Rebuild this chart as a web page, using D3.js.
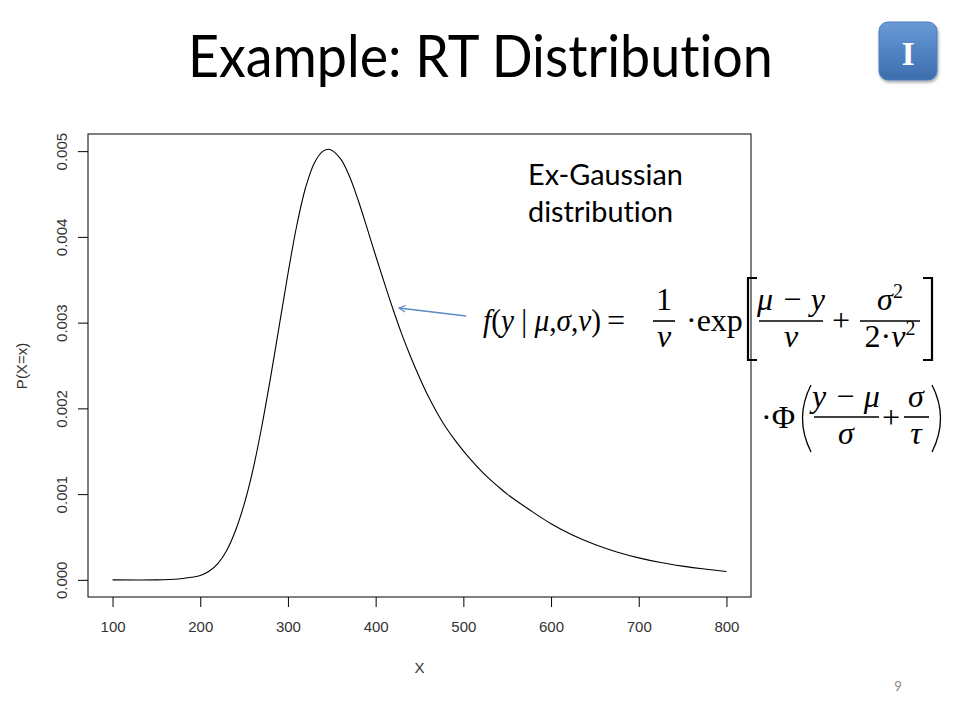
<!DOCTYPE html>
<html>
<head>
<meta charset="utf-8">
<script src="https://cdn.jsdelivr.net/npm/d3@7"></script>
<style>
  html, body { margin: 0; padding: 0; background: #fff; }
  svg { display: block; }
  text { font-variant-ligatures: none; }
</style>
</head>
<body>
<svg id="chart" width="960" height="720"></svg>
<script>
// ---- Data ----
const titleText = "Example: RT Distribution";
const noteLines = ["Ex-Gaussian", "distribution"];
const xLabel = "X";
const yLabel = "P(X=x)";
const xTicks = [100, 200, 300, 400, 500, 600, 700, 800];
const yTicks = [0, 0.001, 0.002, 0.003, 0.004, 0.005];
const xValues = [100, 150, 175, 190, 200, 210, 220, 230, 240, 250, 260, 270, 280, 290, 300,
  310, 320, 330, 340, 348, 360, 370, 380, 390, 400, 410, 420, 430, 440, 450, 460, 470,
  480, 490, 500, 510, 520, 530, 540, 550, 560, 575, 600, 625, 650, 675, 700, 725, 750, 775, 800];
const densityValues = [0, 0, 0.00001, 0.00003, 0.00005, 0.00010, 0.00019, 0.00034, 0.00057,
  0.00088, 0.00128, 0.00178, 0.00235, 0.00296, 0.00357, 0.00413, 0.00457, 0.00486, 0.00500,
  0.00502, 0.00491, 0.00471, 0.00443, 0.00411, 0.00378, 0.00346, 0.00315, 0.00286, 0.00260,
  0.00236, 0.00214, 0.00195, 0.00178, 0.001635, 0.001505, 0.001385, 0.001275, 0.001175,
  0.001085, 0.00100, 0.000925, 0.00082, 0.000655, 0.00052, 0.000412, 0.000325, 0.000256,
  0.000202, 0.00016, 0.000126, 0.000098];
const pageNumber = "9";
const badgeText = "I";

const points = xValues.map((x, i) => ({ x, y: densityValues[i] }));

// ---- Layout ----
const svg = d3.select("#chart");
const box = { left: 88, right: 751, top: 134, bottom: 597 };

// R-style 4% extension of data range
const xExt = (800 - 100) * 0.04;
const yExt = 0.005 * 0.04;
const x = d3.scaleLinear().domain([100 - xExt, 800 + xExt]).range([box.left, box.right]);
const y = d3.scaleLinear().domain([0 - yExt, 0.005 + yExt]).range([box.bottom, box.top]);

const sans = "Lato, 'Open Sans', sans-serif";
const rfont = "'Liberation Sans', Arial, sans-serif";

// Title: fit height by font size, width by horizontal scale
const titleG = svg.append("g");
const title = titleG.append("text")
  .attr("x", 0).attr("y", 0)
  .attr("font-family", sans)
  .attr("font-size", 59)
  .attr("fill", "#000")
  .text(titleText);
const tw = title.node().getComputedTextLength();
titleG.attr("transform", `translate(188,77) scale(${585 / tw},1)`);

// Badge
const defs = svg.append("defs");
const grad = defs.append("linearGradient").attr("id", "badgeGrad")
  .attr("x1", 0).attr("y1", 0).attr("x2", 0).attr("y2", 1);
grad.append("stop").attr("offset", "0%").attr("stop-color", "#6a9ad6");
grad.append("stop").attr("offset", "55%").attr("stop-color", "#4f81c2");
grad.append("stop").attr("offset", "100%").attr("stop-color", "#3e6dab");
const flt = defs.append("filter").attr("id", "shadow").attr("x", "-20%").attr("y", "-20%")
  .attr("width", "150%").attr("height", "150%");
flt.append("feDropShadow").attr("dx", 1).attr("dy", 2).attr("stdDeviation", 1.5)
  .attr("flood-color", "#000").attr("flood-opacity", 0.35);
svg.append("rect")
  .attr("x", 879).attr("y", 22).attr("width", 58).attr("height", 58)
  .attr("rx", 9).attr("ry", 9)
  .attr("fill", "url(#badgeGrad)")
  .attr("stroke", "#4a7cc0").attr("stroke-width", 1)
  .attr("filter", "url(#shadow)");
svg.append("text")
  .attr("x", 908).attr("y", 65)
  .attr("text-anchor", "middle")
  .attr("font-family", "'Liberation Serif', 'DejaVu Serif', serif")
  .attr("font-weight", "bold")
  .attr("font-size", 34)
  .attr("fill", "#fff")
  .text(badgeText);

// Plot box
svg.append("rect")
  .attr("x", box.left).attr("y", box.top)
  .attr("width", box.right - box.left).attr("height", box.bottom - box.top)
  .attr("fill", "none").attr("stroke", "#000").attr("stroke-width", 1);

// X axis
const gx = svg.append("g")
  .attr("transform", `translate(0,${box.bottom})`)
  .call(d3.axisBottom(x).tickValues(xTicks).tickSize(10).tickPadding(14).tickFormat(d3.format("d")));
gx.select(".domain").remove();
gx.selectAll("text")
  .attr("font-family", rfont)
  .attr("font-size", 15).attr("fill", "#333");

// Y axis
const gy = svg.append("g")
  .attr("transform", `translate(${box.left},0)`)
  .call(d3.axisLeft(y).tickValues(yTicks).tickSize(10).tickFormat(d3.format(".3f")));
gy.select(".domain").remove();
gy.selectAll("text")
  .attr("font-family", rfont)
  .attr("font-size", 15).attr("fill", "#333")
  .attr("text-anchor", "middle")
  .attr("dy", 0)
  .attr("x", 0)
  .attr("transform", "translate(-21,0) rotate(-90)");

// Axis titles
svg.append("text")
  .attr("x", x(450)).attr("y", 673)
  .attr("text-anchor", "middle")
  .attr("font-family", rfont)
  .attr("font-size", 15).attr("fill", "#333")
  .text(xLabel);
svg.append("text")
  .attr("transform", `translate(27,366) rotate(-90)`)
  .attr("text-anchor", "middle")
  .attr("font-family", rfont)
  .attr("font-size", 15).attr("fill", "#333")
  .text(yLabel);

// Density curve
const line = d3.line().x(d => x(d.x)).y(d => y(d.y)).curve(d3.curveCatmullRom.alpha(0.5));
svg.append("path")
  .datum(points)
  .attr("d", line)
  .attr("fill", "none").attr("stroke", "#000").attr("stroke-width", 1.1);

// Note text
const noteG = svg.append("g");
const note = noteG.append("text")
  .attr("font-family", sans)
  .attr("font-size", 28).attr("fill", "#000");
noteLines.forEach((t, i) => {
  note.append("tspan").attr("x", 0).attr("y", i * 37).text(t);
});
const nw = note.select("tspan").node().getComputedTextLength();
noteG.attr("transform", `translate(528,185) scale(${155 / nw},1)`);

// Arrow
defs.append("marker").attr("id", "arrowHead")
  .attr("viewBox", "0 0 10 10").attr("refX", 9).attr("refY", 5)
  .attr("markerWidth", 8).attr("markerHeight", 8)
  .attr("markerUnits", "userSpaceOnUse")
  .attr("orient", "auto")
  .append("path").attr("d", "M1,1 L9,5 L1,9")
  .attr("fill", "none").attr("stroke", "#5b8bc9").attr("stroke-width", 1.4);
svg.append("line")
  .attr("x1", 466).attr("y1", 316).attr("x2", 399).attr("y2", 308)
  .attr("stroke", "#5b8bc9").attr("stroke-width", 1.4)
  .attr("marker-end", "url(#arrowHead)");

// Formula (serif, math style)
const fg = svg.append("g")
  .attr("font-family", "'Liberation Serif', 'Times New Roman', serif")
  .attr("fill", "#000");
function t(xp, yp, str, size, italic, anchor) {
  return fg.append("text").attr("x", xp).attr("y", yp)
    .attr("font-size", size || 32)
    .attr("font-style", italic ? "italic" : "normal")
    .attr("text-anchor", anchor || "start")
    .text(str);
}
function bar(x1, x2, yy) {
  fg.append("line").attr("x1", x1).attr("x2", x2).attr("y1", yy).attr("y2", yy)
    .attr("stroke", "#000").attr("stroke-width", 1.6);
}
// line 1
const l1 = fg.append("text").attr("x", 483).attr("y", 331).attr("font-size", 32)
  .attr("textLength", 118).attr("lengthAdjust", "spacingAndGlyphs");
l1.append("tspan").attr("font-style", "italic").text("f");
l1.append("tspan").text("(");
l1.append("tspan").attr("font-style", "italic").text("y");
l1.append("tspan").text(" | ");
l1.append("tspan").attr("font-style", "italic").text("μ");
l1.append("tspan").text(",");
l1.append("tspan").attr("font-style", "italic").text("σ");
l1.append("tspan").text(",");
l1.append("tspan").attr("font-style", "italic").text("ν");
l1.append("tspan").text(")");
t(607, 331, "=", 32);
t(664, 310, "1", 32, false, "middle");
bar(653, 675, 321);
t(664, 347, "ν", 32, true, "middle");
t(686, 331, "·exp", 32);
// big bracket [
fg.append("path").attr("d", "M757,278 L748,278 L748,360 L757,360")
  .attr("fill", "none").attr("stroke", "#000").attr("stroke-width", 2.2);
t(791, 310, "μ − y", 32, true, "middle");
bar(759, 823, 321);
t(791, 347, "ν", 32, true, "middle");
t(832, 331, "+", 32);
const s2 = t(890, 310, "", 32, true, "middle");
s2.append("tspan").text("σ");
s2.append("tspan").attr("font-size", 20).attr("font-style", "normal").attr("dy", -12).text("2");
bar(860, 920, 321);
const d2 = t(890, 347, "", 32, false, "middle");
d2.append("tspan").text("2·");
d2.append("tspan").attr("font-style", "italic").text("ν");
d2.append("tspan").attr("font-size", 20).attr("dy", -12).text("2");
fg.append("path").attr("d", "M923,278 L932,278 L932,360 L923,360")
  .attr("fill", "none").attr("stroke", "#000").attr("stroke-width", 2.2);
// line 2
t(761, 428, "·Φ", 32);
fg.append("path").attr("d", "M811,385 Q794,418 811,452")
  .attr("fill", "none").attr("stroke", "#000").attr("stroke-width", 1.3);
t(846, 407, "y − μ", 32, true, "middle");
bar(814, 879, 417);
t(846, 444, "σ", 32, true, "middle");
t(882, 428, "+", 32);
t(916, 407, "σ", 32, true, "middle");
bar(904, 929, 417);
t(916, 444, "τ", 32, true, "middle");
fg.append("path").attr("d", "M932,385 Q949,418 932,452")
  .attr("fill", "none").attr("stroke", "#000").attr("stroke-width", 1.3);

// Page number
svg.append("text")
  .attr("x", 898).attr("y", 691)
  .attr("text-anchor", "middle")
  .attr("font-family", sans)
  .attr("font-size", 13).attr("fill", "#8a8a8a")
  .text(pageNumber);
</script>
</body>
</html>
